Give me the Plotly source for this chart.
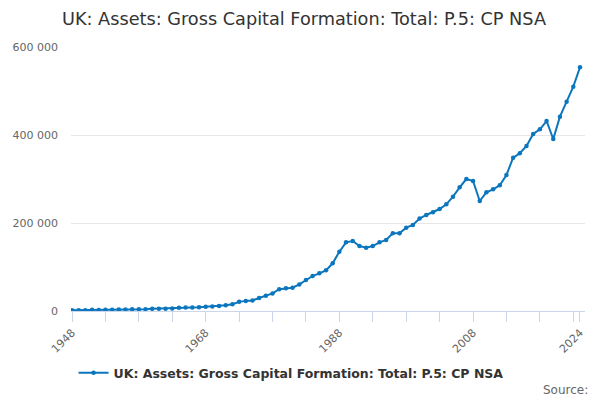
import plotly.graph_objects as go

years = list(range(1948, 2025))
values = [
    1700, 1800, 1900, 2600, 2500, 2700, 2900, 3300, 3500, 3800,   # 1948-1957
    3900, 4200, 4900, 5300, 5200, 5900, 7200, 7700, 8000, 8600,   # 1958-1967
    9600, 10500, 11500, 13200, 15200, 20800, 23000, 24000, 29500, 34500,  # 1968-1977
    40000, 49500, 51500, 53000, 60500, 70500, 79500, 85600, 92400, 108400,  # 1978-1987
    134800, 156100, 159100, 147700, 144000, 147700, 156100, 161400, 176500, 176500,  # 1988-1997
    189400, 195500, 210000, 218200, 224300, 231800, 242500, 259800, 281100, 300000,  # 1998-2007
    295500, 250000, 269700, 276600, 285700, 309100, 348500, 358400, 375000, 402300,  # 2008-2017
    412900, 431800, 390900, 441600, 475700, 509800, 553900,  # 2018-2024
]

series_name = "UK: Assets: Gross Capital Formation: Total: P.5: CP NSA"
title_text = "UK: Assets: Gross Capital Formation: Total: P.5: CP NSA"

x_tick_vals = list(range(1948, 2024, 5)) + [2024]
x_label_years = [1948, 1968, 1988, 2008, 2024]
x_tick_text = [str(v) if v in x_label_years else "" for v in x_tick_vals]

y_tick_vals = [0, 200000, 400000, 600000]
y_tick_text = ["0", "200 000", "400 000", "600 000"]

color = "#0b76bd"

fig = go.Figure()
fig.add_trace(go.Scatter(
    x=years, y=values, mode="lines+markers", name=series_name,
    line=dict(color=color, width=2),
    marker=dict(color=color, size=4.5),
))

fig.update_layout(
    width=592, height=392,
    margin=dict(l=63, r=15, t=39, b=89),
    paper_bgcolor="white", plot_bgcolor="white",
    font=dict(family="DejaVu Sans", color="#666666"),
    title=dict(text=title_text, x=0.5, xanchor="center", y=0.972, yanchor="middle",
               font=dict(size=17.7, color="#333333", family="DejaVu Sans")),
    showlegend=True,
    legend=dict(orientation="h", x=0.005, xanchor="left", y=-0.235, yanchor="middle",
                font=dict(size=12.5, color="#333333", weight="bold"),
                itemwidth=30),
    xaxis=dict(
        range=[1947.85, 2024.75],
        tickmode="array", tickvals=x_tick_vals, ticktext=x_tick_text,
        tickangle=-45, ticks="outside", ticklen=10, tickcolor="#ccd6eb",
        showline=True, linecolor="#ccd6eb", linewidth=1,
        showgrid=False, zeroline=False, automargin=False,
        tickfont=dict(size=11, color="#666666"),
    ),
    yaxis=dict(
        range=[0, 600000],
        tickmode="array", tickvals=y_tick_vals, ticktext=y_tick_text,
        showgrid=True, gridcolor="#e6e6e6", gridwidth=1,
        zeroline=False, showline=False, ticks="",
        ticklabelstandoff=12, automargin=False,
        tickfont=dict(size=11, color="#666666"),
    ),
    annotations=[dict(text="Source:", xref="paper", yref="paper", x=1.01, y=-0.299,
                      xanchor="right", yanchor="middle", showarrow=False,
                      font=dict(size=12, color="#666666"))],
)

fig.write_html("out.html")
